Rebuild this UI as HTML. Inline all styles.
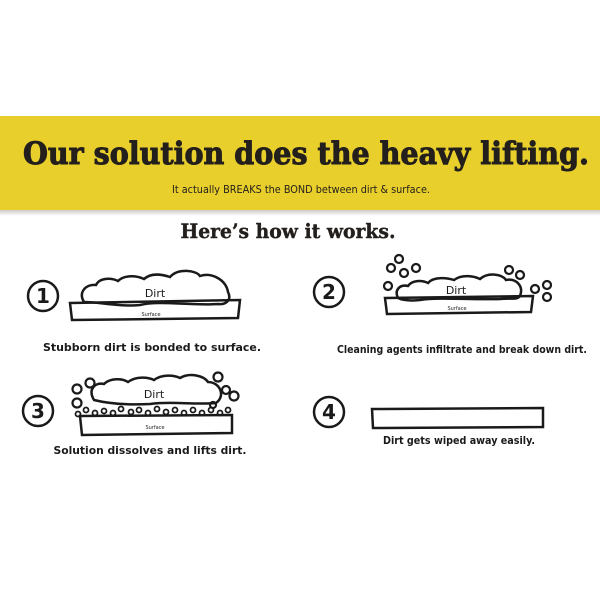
<!DOCTYPE html>
<html><head><style>
html,body{margin:0;padding:0;background:#fff}
svg{display:block}
</style></head><body>
<svg width="600" height="600" viewBox="0 0 600 600" xmlns="http://www.w3.org/2000/svg">
<defs>
<linearGradient id="sh" x1="0" y1="0" x2="0" y2="1"><stop offset="0" stop-color="#bbb"/><stop offset="1" stop-color="#fff"/></linearGradient>
</defs>
<rect x="0" y="208" width="600" height="8" fill="url(#sh)"/>
<rect x="0" y="116" width="600" height="94" fill="#e8cf2c"/>
<text x="306" y="164" text-anchor="middle" font-family="'DejaVu Serif','Liberation Serif',serif" font-weight="bold" font-size="31" fill="#231f1c" stroke="#231f1c" stroke-width="1" textLength="566" lengthAdjust="spacingAndGlyphs">Our solution does the heavy lifting.</text>
<text x="301" y="193" text-anchor="middle" font-family="'DejaVu Sans Condensed','Liberation Sans Narrow','Liberation Sans',sans-serif" font-size="11" fill="#231f1c" textLength="258" lengthAdjust="spacingAndGlyphs">It actually BREAKS the BOND between dirt &amp; surface.</text>
<text x="288" y="238" text-anchor="middle" font-family="'DejaVu Serif','Liberation Serif',serif" font-weight="bold" font-size="20" fill="#231f1c" stroke="#231f1c" stroke-width="0.4" textLength="215" lengthAdjust="spacingAndGlyphs">Here’s how it works.</text>

<g fill="none" stroke="#1a1a1a" stroke-width="2.5">
<circle cx="43" cy="296" r="15"/>
<path d="M70 303 L240 300 L238 318 L72 320 Z"/>
<path d="M84 302 C78 292 86 284 96 285 C100 277 112 278 118 281 C125 274 138 276 144 279 C152 272 164 275 170 277 C178 268 196 270 200 276 C212 272 226 280 228 292 C232 300 226 305 218 304 C190 306 160 300 140 305 C120 307 100 302 84 302 Z"/>
<circle cx="329" cy="292" r="15"/>
<path d="M385 298 L533 296 L531 312 L387 314 Z"/>
<path d="M398 298 C394 290 400 284 408 286 C412 280 422 280 428 283 C434 276 448 278 454 280 C462 274 474 276 480 279 C488 272 502 274 506 280 C516 278 524 286 520 296 C518 300 510 298 500 299 C470 300 440 297 420 300 C410 301 402 300 398 298 Z"/>
<g stroke-width="2.2">
<circle cx="399" cy="259" r="4"/><circle cx="391" cy="268" r="4"/><circle cx="404" cy="273" r="4"/><circle cx="416" cy="268" r="4"/><circle cx="388" cy="286" r="4"/>
<circle cx="509" cy="270" r="4"/><circle cx="520" cy="275" r="4"/><circle cx="535" cy="289" r="4"/><circle cx="547" cy="285" r="4"/><circle cx="547" cy="297" r="4"/>
</g>
<circle cx="38" cy="411" r="15"/>
<path d="M80 416 L232 415 L232 433 L82 435 Z"/>
<path d="M94 400 C88 390 94 382 104 384 C110 378 122 378 128 382 C136 376 148 377 154 380 C162 374 174 375 180 378 C190 372 204 376 208 382 C220 382 226 396 216 403 C196 405 170 401 150 404 C130 405 110 404 94 400 Z"/>
<g stroke-width="2.2">
<circle cx="77" cy="389" r="4.5"/><circle cx="90" cy="383" r="4.5"/><circle cx="77" cy="403" r="4.5"/>
<circle cx="218" cy="377" r="4.5"/><circle cx="226" cy="390" r="4"/><circle cx="234" cy="396" r="4.5"/><circle cx="213" cy="405" r="3"/>
</g>
<g stroke-width="1.8">
<circle cx="78" cy="414" r="2.5"/><circle cx="86" cy="410" r="2.5"/><circle cx="95" cy="413" r="2.5"/><circle cx="104" cy="411" r="2.5"/><circle cx="113" cy="413" r="2.5"/><circle cx="121" cy="409" r="2.5"/><circle cx="131" cy="412" r="2.5"/><circle cx="139" cy="410" r="2.5"/><circle cx="148" cy="413" r="2.5"/><circle cx="157" cy="409" r="2.5"/><circle cx="166" cy="412" r="2.5"/><circle cx="175" cy="410" r="2.5"/><circle cx="184" cy="413" r="2.5"/><circle cx="193" cy="410" r="2.5"/><circle cx="202" cy="413" r="2.5"/><circle cx="211" cy="410" r="2.5"/><circle cx="220" cy="413" r="2.5"/><circle cx="228" cy="410" r="2.5"/>
</g>
<circle cx="329" cy="412" r="15"/>
<path d="M372 409 L543 408 L543 427 L373 428 Z"/>
</g>

<g font-family="'DejaVu Sans','Liberation Sans',sans-serif" fill="#1a1a1a" text-anchor="middle">
<text x="43" y="303" font-size="20" font-weight="bold">1</text>
<text x="329" y="299" font-size="20" font-weight="bold">2</text>
<text x="38" y="418" font-size="20" font-weight="bold">3</text>
<text x="329" y="419" font-size="20" font-weight="bold">4</text>
<text x="155" y="297" font-size="11">Dirt</text>
<text x="151" y="316" font-size="5">Surface</text>
<text x="456" y="294" font-size="11">Dirt</text>
<text x="457" y="310" font-size="5">Surface</text>
<text x="154" y="398" font-size="11">Dirt</text>
<text x="155" y="429" font-size="5">Surface</text>
</g>
<g font-family="'DejaVu Sans Condensed','Liberation Sans',sans-serif" font-weight="bold" font-size="10.5" fill="#1a1a1a" text-anchor="middle">
<text x="152" y="351" textLength="218" lengthAdjust="spacingAndGlyphs">Stubborn dirt is bonded to surface.</text>
<text x="462" y="353" textLength="250" lengthAdjust="spacingAndGlyphs">Cleaning agents infiltrate and break down dirt.</text>
<text x="150" y="454" textLength="193" lengthAdjust="spacingAndGlyphs">Solution dissolves and lifts dirt.</text>
<text x="459" y="444" textLength="152" lengthAdjust="spacingAndGlyphs">Dirt gets wiped away easily.</text>
</g>
</svg>
</body></html>
